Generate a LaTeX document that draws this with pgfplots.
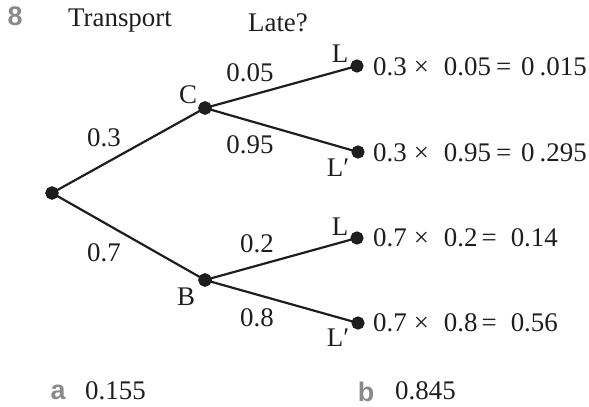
\documentclass[border=0pt]{standalone}
\usepackage{pgfplots}
\pgfplotsset{compat=1.18}
\usepackage{fontspec}
\setmainfont{Liberation Serif}
\setsansfont{Liberation Sans}
\definecolor{ink}{HTML}{1E1E1E}
\definecolor{qgray}{HTML}{8A8A8A}
\tikzset{
  lbl/.style={font=\fontsize{27}{29}\selectfont, text=ink, inner sep=0pt},
  qnum/.style={font=\sffamily\bfseries\fontsize{27}{29}\selectfont, text=qgray, inner sep=0pt},
  branch/.style={ink, line width=2.2bp, mark=*, mark size=5.5bp, mark options={fill=ink, draw=ink}},
}
% a x b = c, with the gaps of the reference
\newcommand{\prodline}[5]{#1\hspace{7bp}×\hspace{15bp}#2\hspace{#5}=\hspace{#4}#3}
\begin{document}
\begin{tikzpicture}
\begin{axis}[
    scale only axis, width=589bp, height=407bp,
    xmin=0, xmax=589, ymin=0, ymax=407, y dir=reverse,
    hide axis, clip=false,
]
\path (axis cs:0,0) rectangle (axis cs:589,407);

% tree branches (pixel positions)
\addplot[branch] coordinates {(52,193) (205,108)};
\addplot[branch] coordinates {(52,193) (205,280)};
\addplot[branch] coordinates {(205,108) (357,66)};
\addplot[branch] coordinates {(205,108) (358,152)};
\addplot[branch] coordinates {(205,280) (357,238)};
\addplot[branch] coordinates {(205,280) (358,323)};

% headings
\node[qnum] at (axis cs:15,16) {8};
\node[lbl] at (axis cs:120,21) {Transport};
\node[lbl] at (axis cs:278,23) {Late?};

% branch labels
\node[lbl] at (axis cs:104,138) {0.3};
\node[lbl] at (axis cs:104,253) {0.7};
\node[lbl] at (axis cs:188,95) {C};
\node[lbl] at (axis cs:186,297) {B};
\node[lbl] at (axis cs:250,73) {0.05};
\node[lbl] at (axis cs:250,145) {0.95};
\node[lbl] at (axis cs:257,244) {0.2};
\node[lbl] at (axis cs:257,318) {0.8};
\node[lbl] at (axis cs:340,54) {L};
\node[lbl] at (axis cs:338,168) {L′};
\node[lbl] at (axis cs:340,227) {L};
\node[lbl] at (axis cs:338,338) {L′};

% products
\node[lbl, anchor=west] at (axis cs:373,67) {\prodline{0.3}{0.05}{0\hspace{5bp}.015}{10bp}{5bp}};
\node[lbl, anchor=west] at (axis cs:373,153) {\prodline{0.3}{0.95}{0\hspace{5bp}.295}{10bp}{5bp}};
\node[lbl, anchor=west] at (axis cs:373,238) {\prodline{0.7}{0.2}{0.14}{14bp}{4bp}};
\node[lbl, anchor=west] at (axis cs:373,323) {\prodline{0.7}{0.8}{0.56}{14bp}{4bp}};

% answers
\node[qnum] at (axis cs:58,392) {a};
\node[lbl, anchor=west] at (axis cs:85,391) {0.155};
\node[qnum] at (axis cs:366,392) {b};
\node[lbl, anchor=west] at (axis cs:395,391) {0.845};
\end{axis}
\end{tikzpicture}
\end{document}
